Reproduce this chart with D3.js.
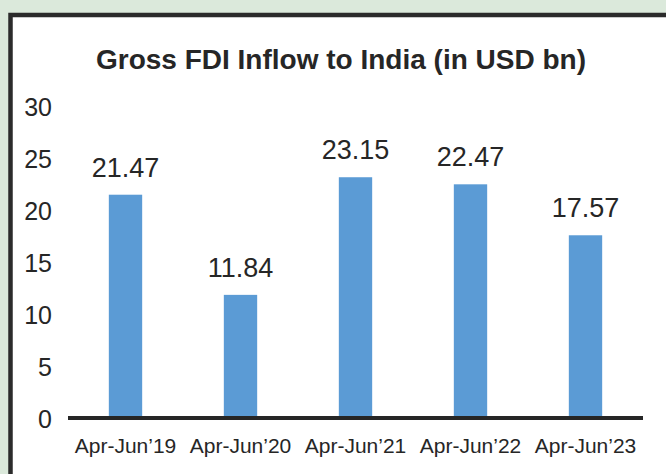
<!DOCTYPE html>
<html>
<head>
<meta charset="utf-8">
<script src="https://cdn.jsdelivr.net/npm/d3@7"></script>
<style>
  html, body { margin: 0; padding: 0; background: #dbe9db; }
  svg { display: block; }
  text { font-family: "Liberation Sans", Arial, sans-serif; fill: #262626; }
</style>
</head>
<body>
<div id="chart"></div>
<script>
var periods = ["Apr-Jun\u201919", "Apr-Jun\u201920", "Apr-Jun\u201921", "Apr-Jun\u201922", "Apr-Jun\u201923"];
var inflows = [21.47, 11.84, 23.15, 22.47, 17.57];
var yTicks = [0, 5, 10, 15, 20, 25, 30];
var chartTitle = "Gross FDI Inflow to India (in USD bn)";

var width = 666,
    height = 474;

var svg = d3.select("#chart").append("svg")
    .attr("width", width)
    .attr("height", height);

// white panel with the dark frame on top and left
svg.append("rect")
    .attr("x", 10)
    .attr("y", 15)
    .attr("width", width - 10)
    .attr("height", height - 15)
    .attr("fill", "#ffffff");

svg.append("path")
    .attr("d", "M10.5," + height + "V15H" + width)
    .attr("fill", "none")
    .attr("stroke", "#2b2b2b")
    .attr("stroke-width", 4.5);

svg.append("text")
    .attr("x", 341)
    .attr("y", 69)
    .attr("text-anchor", "middle")
    .style("font-size", "28px")
    .style("font-weight", "bold")
    .text(chartTitle);

var x = d3.scaleBand()
    .domain(periods)
    .range([68, 643])
    .paddingInner(0.71)
    .paddingOuter(0.355);

var y = d3.scaleLinear()
    .domain([0, 30])
    .range([418, 106]);

// y tick labels, no axis line
svg.append("g")
    .attr("transform", "translate(52,0)")
    .call(d3.axisLeft(y).tickValues(yTicks).tickSize(0).tickPadding(0))
    .call(function(g) { g.select(".domain").remove(); })
    .selectAll("text")
    .style("font-size", "25px")
    .attr("fill", "#262626")
    .attr("dy", "0.36em");

svg.selectAll(".bar")
    .data(inflows)
    .enter().append("rect")
    .attr("class", "bar")
    .attr("x", function(d, i) { return x(periods[i]); })
    .attr("y", function(d) { return y(d); })
    .attr("width", x.bandwidth())
    .attr("height", function(d) { return y(0) - y(d); })
    .attr("fill", "#5b9bd5");

svg.selectAll(".value-label")
    .data(inflows)
    .enter().append("text")
    .attr("class", "value-label")
    .attr("x", function(d, i) { return x(periods[i]) + x.bandwidth() / 2; })
    .attr("y", function(d) { return y(d) - 18; })
    .attr("text-anchor", "middle")
    .style("font-size", "27px")
    .text(function(d) { return d.toFixed(2); });

// x axis baseline and category labels
var xAxis = svg.append("g")
    .attr("transform", "translate(0," + y(0) + ")")
    .call(d3.axisBottom(x).tickSize(0).tickPadding(0));

xAxis.select(".domain")
    .attr("d", "M68,0H643")
    .attr("stroke", "#262626")
    .attr("stroke-width", 4);

xAxis.selectAll("text")
    .attr("fill", "#262626")
    .attr("y", 35)
    .attr("dy", 0)
    .style("font-size", "21px");
</script>
</body>
</html>
